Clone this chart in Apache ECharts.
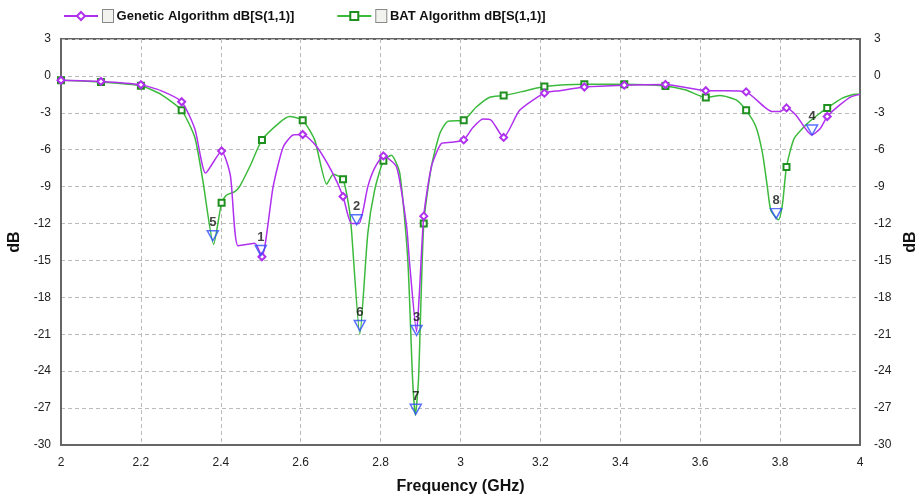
<!DOCTYPE html>
<html>
<head>
<meta charset="utf-8">
<script src="https://cdn.jsdelivr.net/npm/echarts@6/dist/echarts.min.js"></script>
<style>
  html, body { margin: 0; padding: 0; background: #fff; }
  #chart { width: 919px; height: 498px; }
</style>
</head>
<body>
<div id="chart"></div>
<script>
// frequency (GHz) / dB[S(1,1)] vertices
var genFreq = [2.000, 2.100, 2.200, 2.250, 2.302, 2.335, 2.362, 2.402, 2.424, 2.443, 2.485, 2.503,
  2.531, 2.556, 2.581, 2.605, 2.639, 2.680, 2.706, 2.727, 2.746, 2.768, 2.785, 2.807, 2.840, 2.865,
  2.872, 2.890, 2.897, 2.908, 2.927, 2.952, 2.977, 3.008, 3.031, 3.056, 3.077, 3.108, 3.148, 3.210,
  3.248, 3.310, 3.410, 3.513, 3.614, 3.664, 3.715, 3.760, 3.780, 3.800, 3.816, 3.840, 3.879, 3.900,
  3.918, 3.948, 3.977, 4.000]
var genDb = [-0.35, -0.45, -0.72, -1.2, -2.1, -4.3, -7.9, -6.1, -8.1, -13.8, -13.6, -14.7,
  -9.0, -5.8, -4.8, -4.76, -5.7, -7.9, -9.8, -12.0, -12.0, -9.0, -7.5, -6.5, -7.4, -12.2,
  -15.0, -20.8, -17.7, -11.4, -7.4, -5.5, -5.4, -5.2, -4.2, -3.5, -3.6, -5.0, -2.8, -1.4,
  -1.2, -0.9, -0.75, -0.7, -1.2, -1.2, -1.3, -2.5, -2.9, -2.9, -2.6, -3.2, -4.8, -4.3,
  -3.3, -2.4, -1.7, -1.5]

var batFreq = [2.000, 2.100, 2.200, 2.250, 2.302, 2.335, 2.355, 2.382, 2.402, 2.414, 2.435, 2.447,
  2.475, 2.503, 2.547, 2.572, 2.605, 2.635, 2.665, 2.682, 2.706, 2.722, 2.727, 2.748, 2.768, 2.785,
  2.807, 2.827, 2.848, 2.868, 2.880, 2.887, 2.895, 2.908, 2.927, 2.948, 2.968, 3.008, 3.039, 3.072,
  3.108, 3.164, 3.210, 3.310, 3.410, 3.513, 3.564, 3.614, 3.650, 3.690, 3.715, 3.739, 3.756, 3.768,
  3.777, 3.796, 3.806, 3.816, 3.835, 3.864, 3.889, 3.918, 3.956, 3.989, 4.000]
var batDb = [-0.35, -0.5, -0.8, -1.5, -2.8, -5.0, -8.5, -13.7, -10.3, -9.7, -9.4, -9.0,
  -7.2, -5.2, -3.8, -3.3, -3.6, -5.2, -8.8, -8.0, -8.4, -10.9, -12.5, -21.0, -12.8, -9.3,
  -6.9, -6.45, -7.9, -14.9, -24.6, -27.6, -24.6, -12.0, -7.4, -4.7, -3.7, -3.6, -2.55, -1.75,
  -1.6, -1.2, -0.87, -0.68, -0.68, -0.82, -1.15, -1.75, -1.6, -1.95, -2.8, -4.1, -6.3, -9.0,
  -10.95, -11.7, -10.4, -7.4, -5.1, -4.0, -3.3, -2.6, -1.8, -1.5, -1.5]

// vertices that carry a plotted symbol
var symbolFreq = [2.000, 2.100, 2.200, 2.302, 2.402, 2.503, 2.605, 2.706, 2.807, 2.908, 3.008,
  3.108, 3.210, 3.310, 3.410, 3.513, 3.614, 3.715, 3.816, 3.918]

// numbered markers
var markLabels = ['1', '2', '3', '4', '5', '6', '7', '8']
var markFreq = [2.500, 2.740, 2.890, 3.880, 2.380, 2.748, 2.888, 3.790]
var markDb = [-14.6, -12.1, -21.1, -4.8, -13.4, -20.7, -27.5, -11.6]

var genName = 'Genetic Algorithm dB[S(1,1)]'
var batName = 'BAT Algorithm dB[S(1,1)]'

function buildData(freq, db) {
  return freq.map(function (f, i) {
    var item = { value: [f, db[i]] }
    if (symbolFreq.indexOf(f) < 0) item.symbol = 'none'
    return item
  })
}

var axisFont = { color: '#222', fontSize: 12, fontFamily: 'Liberation Sans, Arial, sans-serif' }
var titleFont = { color: '#111', fontSize: 16, fontWeight: 'bold', fontFamily: 'Liberation Sans, Arial, sans-serif' }

var myChart = echarts.init(document.getElementById('chart'))
var option = {
  animation: false,
  backgroundColor: '#fff',
  legend: {
    data: [genName, batName],
    left: 58,
    top: 4,
    itemWidth: 34,
    itemHeight: 10,
    itemGap: 42,
    formatter: function (name) {
      return '{box|}{t| ' + name + '}'
    },
    textStyle: {
      rich: {
        box: { width: 10, height: 12, borderColor: '#888', borderWidth: 1, backgroundColor: '#f2f2ee' },
        t: { fontSize: 13, fontWeight: 'bold', color: '#111', fontFamily: 'Liberation Sans, Arial, sans-serif' },
      },
    },
  },
  grid: {
    left: 61,
    right: 59,
    top: 39,
    bottom: 53,
    outerBoundsMode: 'none',
    containLabel: false,
    show: true,
    borderColor: '#666',
    borderWidth: 2,
  },
  xAxis: {
    type: 'value',
    min: 2,
    max: 4,
    interval: 0.2,
    name: 'Frequency (GHz)',
    nameLocation: 'middle',
    nameGap: 34,
    nameTextStyle: titleFont,
    axisLine: { show: true, onZero: false, lineStyle: { color: '#666', width: 2 } },
    axisTick: { show: false },
    axisLabel: Object.assign({ margin: 12 }, axisFont),
    splitLine: { lineStyle: { type: [4, 3], color: '#bbb' } },
  },
  yAxis: [
    {
      type: 'value',
      min: -30,
      max: 3,
      interval: 3,
      name: 'dB',
      nameLocation: 'middle',
      nameRotate: 90,
      nameGap: 34,
      nameTextStyle: titleFont,
      axisLine: { show: true, onZero: false, lineStyle: { color: '#666', width: 2 } },
      axisTick: { show: false },
      axisLabel: Object.assign({ margin: 10 }, axisFont),
      splitLine: { lineStyle: { type: [4, 3], color: '#bbb' } },
    },
    {
      type: 'value',
      position: 'right',
      min: -30,
      max: 3,
      interval: 3,
      name: 'dB',
      nameLocation: 'middle',
      nameRotate: 90,
      nameGap: 42,
      nameTextStyle: titleFont,
      axisLine: { show: true, onZero: false, lineStyle: { color: '#666', width: 2 } },
      axisTick: { show: false },
      axisLabel: Object.assign({ margin: 14 }, axisFont),
      splitLine: { show: false },
    },
  ],
  series: [
    {
      name: genName,
      type: 'line',
      smooth: 0.2,
      symbol: 'emptyDiamond',
      symbolSize: 7,
      showSymbol: true,
      lineStyle: { color: '#b030ee', width: 1.5 },
      itemStyle: { color: '#b030ee', borderWidth: 1 },
      z: 3,
      data: buildData(genFreq, genDb),
    },
    {
      name: batName,
      type: 'line',
      smooth: 0.2,
      symbol: 'emptyRect',
      symbolSize: 6,
      showSymbol: true,
      lineStyle: { color: '#3cba3c', width: 1.5 },
      itemStyle: { color: '#1f8f1f', borderWidth: 1 },
      z: 2,
      data: buildData(batFreq, batDb),
    },
    {
      name: 'markers',
      type: 'scatter',
      symbol: 'path://M0,0 L10,0 L5,9 Z',
      symbolSize: [11, 10],
      symbolOffset: [0, '-50%'],
      itemStyle: { color: 'rgba(255,255,255,0)', borderColor: '#2f4dff', borderWidth: 1.5 },
      label: {
        show: true,
        position: 'top',
        distance: 1,
        formatter: function (p) { return markLabels[p.dataIndex] },
        color: '#111',
        fontSize: 13,
        fontWeight: 'bold',
        fontFamily: 'Liberation Sans, Arial, sans-serif',
      },
      z: 4,
      data: markFreq.map(function (f, i) { return [f, markDb[i]] }),
    },
  ],
}
myChart.setOption(option, true)
</script>
</body>
</html>
